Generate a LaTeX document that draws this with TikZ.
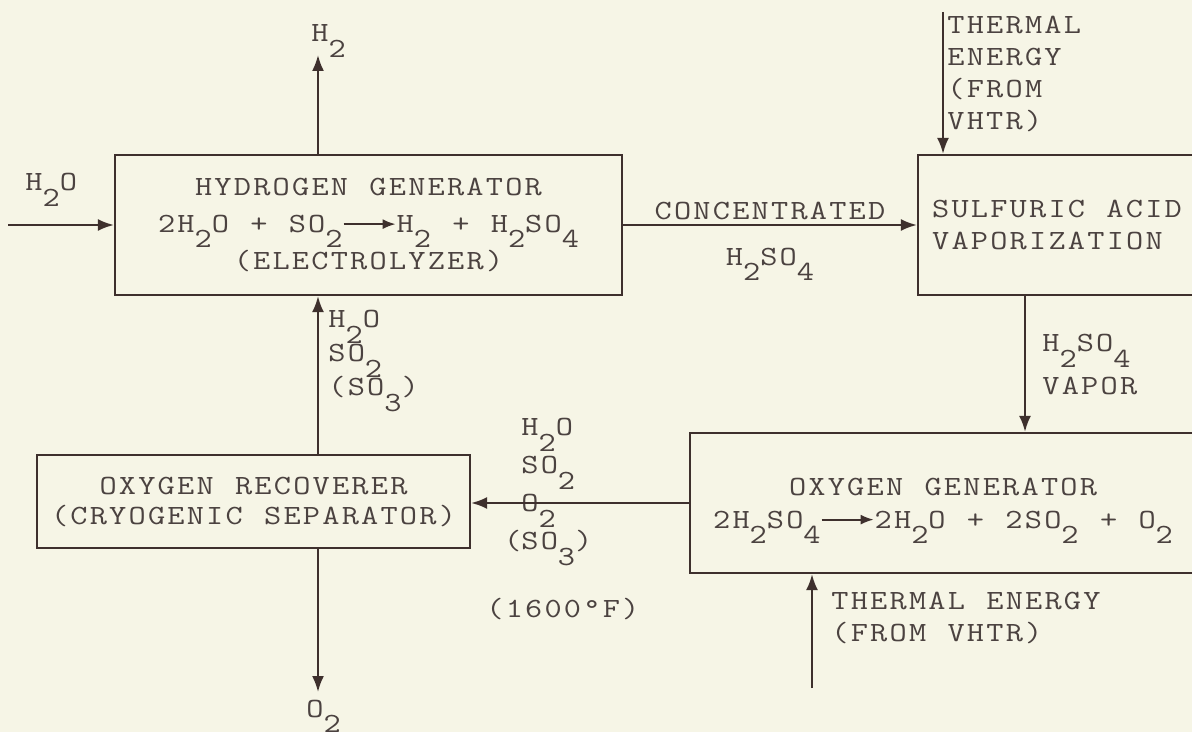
\documentclass[tikz,border=0pt]{standalone}
\usepackage{fontspec}
\setmonofont[FakeStretch=1.2, LetterSpace=8, WordSpace=1.1]{Latin Modern Mono}
\usetikzlibrary{positioning, arrows.meta, calc}
\definecolor{paper}{HTML}{F6F5E6}
\definecolor{ink}{HTML}{3E302D}
\definecolor{typeink}{HTML}{4B4240}
\newcommand{\sbs}[1]{\smash{\raisebox{-0.55em}{#1}}}
\newcommand{\yields}{\tikz[baseline=0pt]\draw[ink, line width=1pt, -{Latex[length=6.5pt,width=5pt]}] (0pt,4.2pt) -- (26pt,4.2pt);}
\tikzset{
  box/.style={rectangle, draw=ink, line width=1.1pt, text=typeink, align=center, font=\ttfamily\fontsize{13.9}{16}\selectfont},
  lbl/.style={text=typeink, inner sep=0pt, align=left, font=\ttfamily\fontsize{13.9}{16}\selectfont},
  flow/.style={draw=ink, line width=1.1pt, -{Latex[length=8pt,width=6pt]}}
}
\begin{document}
\begin{tikzpicture}[x=0.5pt, y=-0.5pt]
    \fill[paper] (0,0) rectangle (1192,732);
    \useasboundingbox (0,0) rectangle (1192,732);

    % --- Boxes ---
    \node (hgen) [box, minimum width=253.5pt, minimum height=70pt] at (368.5,225) {HYDROGEN GENERATOR\\[2.5pt] 2H\sbs{2}O + SO\sbs{2}\yields H\sbs{2} + H\sbs{2}SO\sbs{4}\\[2.5pt] (ELECTROLYZER)};
    \node (sav) [box, align=left, minimum width=139pt, minimum height=70pt] at (1057,225) {SULFURIC ACID\\VAPORIZATION};
    \node (ogen) [box, minimum width=253pt, minimum height=70pt] at (943,503) {OXYGEN GENERATOR\\[0.5pt] 2H\sbs{2}SO\sbs{4}\yields 2H\sbs{2}O + 2SO\sbs{2} + O\sbs{2}};
    \node (recov) [box, minimum width=216.5pt, minimum height=46.5pt] at (253.5,501.5) {OXYGEN RECOVERER\\[-1pt](CRYOGENIC SEPARATOR)};

    % --- Free ends ---
    \coordinate (h2o) at (8,225);
    \coordinate (h2) at (318,55);
    \coordinate (heat1) at (943,12);
    \coordinate (heat2) at (812,688);
    \coordinate (vap) at (1025,0);
    \coordinate (o2) at (318,692);

    % --- Labels ---
    \node (h2olbl) [lbl, anchor=base west] at (25,191) {H\sbs{2}O};
    \node (h2lbl) [lbl, anchor=base west] at (311,42) {H\sbs{2}};
    \node (heat1lbl) [lbl, anchor=north west] at (947,16) {THERMAL\\ENERGY\\(FROM\\VHTR)};
    \node (vaplbl) [lbl, anchor=north west] at (1042,334) {H\sbs{2}SO\sbs{4}\\[5.5pt]VAPOR};
    \node (heat2lbl) [lbl, anchor=north west] at (831,592) {THERMAL ENERGY\\(FROM VHTR)};
    \node (retlbl) [lbl, anchor=north west] at (328,310) {H\sbs{2}O\\[1pt]SO\sbs{2}\\[1pt](SO\sbs{3})};
    \node (mixlbl) [lbl, anchor=north west] at (521,418) {H\sbs{2}O\\[3pt]SO\sbs{2}\\[3pt]O\sbs{2}\\[3pt]\llap{(}SO\sbs{3})};
    \node (templbl) [lbl, anchor=base west] at (486,617) {(1600°F)};
    \node (o2lbl) [lbl, anchor=base west] at (306,717) {O\sbs{2}};

    % --- Connections ---
    \draw [flow] (h2o) -- (hgen.west);
    \draw [flow] (hgen.north -| h2) -- (h2);
    \draw [flow] (hgen.east) -- node[lbl, above=2pt]{CONCENTRATED} node[lbl, below=11pt]{H\sbs{2}SO\sbs{4}} (sav.west);
    \draw [flow] (heat1) -- (heat1 |- sav.north);
    \draw [flow] (sav.south -| vap) -- (ogen.north -| vap);
    \draw [flow] (ogen.west) -- (ogen.west -| recov.east);
    \draw [flow] (recov.north -| h2) -- (hgen.south -| h2);
    \draw [flow] (recov.south -| h2) -- (o2);
    \draw [flow] (heat2) -- (heat2 |- ogen.south);
\end{tikzpicture}
\end{document}
